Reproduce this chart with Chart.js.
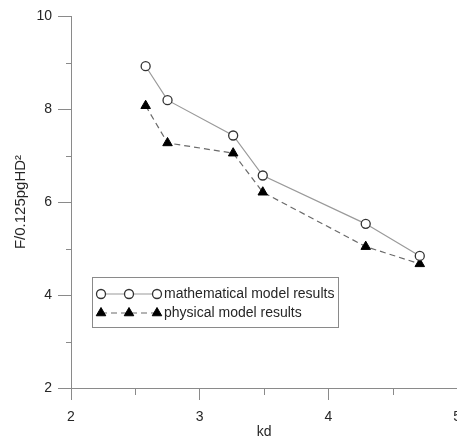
<!DOCTYPE html>
<html>
<head>
<meta charset="utf-8">
<script src="https://cdn.jsdelivr.net/npm/chart.js@4.4.1/dist/chart.umd.min.js"></script>
<style>
  html, body { margin: 0; padding: 0; background: #fff; }
  #wrap { width: 457px; height: 443px; overflow: hidden; }
  #inner { width: 520px; height: 443px; }
</style>
</head>
<body>
<div id="wrap"><div id="inner"><canvas id="chart" width="457" height="443"></canvas></div></div>
<script>
// --- data ---
const kd = [2.58, 2.75, 3.26, 3.49, 4.29, 4.71];
const mathModel = [8.92, 8.19, 7.43, 6.57, 5.53, 4.84];
const physModel = [8.07, 7.27, 7.05, 6.21, 5.04, 4.67];
const seriesNames = ['mathematical model results', 'physical model results'];
const xTicks = [2, 3, 4, 5];
const yTicks = [2, 4, 6, 8, 10];

const FONT = '"Liberation Sans", Arial, sans-serif';
const AXIS = '#8a8a8a';
const TEXT = '#262626';
const W = 457, H = 443;

const pts = ys => kd.map((x, i) => ({ x, y: ys[i] }));

// minor ticks half way between the labelled ones
const minorTicks = {
    id: 'minorTicks',
    afterDraw(chart) {
        const { ctx, scales: { x, y }, chartArea } = chart;
        ctx.save();
        ctx.strokeStyle = AXIS;
        ctx.lineWidth = 1;
        for (let i = 0; i < xTicks.length - 1; i++) {
            const px = Math.round(x.getPixelForValue((xTicks[i] + xTicks[i + 1]) / 2)) + 0.5;
            ctx.beginPath();
            ctx.moveTo(px, chartArea.bottom);
            ctx.lineTo(px, chartArea.bottom + 7);
            ctx.stroke();
        }
        for (let i = 0; i < yTicks.length - 1; i++) {
            const py = Math.round(y.getPixelForValue((yTicks[i] + yTicks[i + 1]) / 2)) + 0.5;
            ctx.beginPath();
            ctx.moveTo(chartArea.left - 5, py);
            ctx.lineTo(chartArea.left, py);
            ctx.stroke();
        }
        ctx.restore();
    }
};

// boxed legend with a three-marker line sample, as in the original
const boxLegend = {
    id: 'boxLegend',
    afterDraw(chart) {
        const { ctx } = chart;
        const box = { l: 92, t: 277, r: 338, b: 327 };
        const rows = [294, 313];
        const marks = [101, 129, 157];
        ctx.save();
        ctx.fillStyle = '#fff';
        ctx.fillRect(box.l, box.t, box.r - box.l, box.b - box.t);
        ctx.strokeStyle = AXIS;
        ctx.lineWidth = 1;
        ctx.strokeRect(box.l + 0.5, box.t + 0.5, box.r - box.l, box.b - box.t);
        chart.data.datasets.forEach((ds, i) => {
            const y = rows[i];
            ctx.save();
            ctx.strokeStyle = ds.borderColor;
            ctx.lineWidth = ds.borderWidth;
            ctx.setLineDash(ds.borderDash || []);
            ctx.beginPath();
            ctx.moveTo(marks[0], y);
            ctx.lineTo(marks[marks.length - 1], y);
            ctx.stroke();
            ctx.restore();
            marks.forEach(mx => {
                ctx.fillStyle = ds.pointBackgroundColor;
                ctx.strokeStyle = ds.pointBorderColor;
                ctx.lineWidth = ds.pointBorderWidth;
                Chart.helpers.drawPoint(ctx, {
                    pointStyle: ds.pointStyle,
                    radius: ds.pointRadius,
                    borderWidth: ds.pointBorderWidth,
                    rotation: 0
                }, mx, y);
            });
            ctx.fillStyle = TEXT;
            ctx.font = '14px ' + FONT;
            ctx.textBaseline = 'middle';
            ctx.textAlign = 'left';
            ctx.fillText(ds.label, 164, y);
        });
        ctx.restore();
    }
};

const chart = new Chart(document.getElementById('chart'), {
    type: 'line',
    data: {
        datasets: [{
            label: seriesNames[0],
            data: pts(mathModel),
            borderColor: '#9a9a9a',
            borderWidth: 1.2,
            pointStyle: 'circle',
            pointRadius: 4.5,
            pointBorderWidth: 1.3,
            pointBorderColor: '#333',
            pointBackgroundColor: '#fff',
            tension: 0
        }, {
            label: seriesNames[1],
            data: pts(physModel),
            borderColor: '#6a6a6a',
            borderWidth: 1.2,
            borderDash: [6, 4],
            pointStyle: 'triangle',
            pointRadius: 5.5,
            pointBorderWidth: 1,
            pointBorderColor: '#000',
            pointBackgroundColor: '#000',
            tension: 0
        }]
    },
    options: {
        responsive: false,
        maintainAspectRatio: false,
        animation: false,
        layout: { padding: { left: 0, right: 0, top: 16, bottom: 0 } },
        plugins: { legend: { display: false }, tooltip: { enabled: false } },
        scales: {
            x: {
                type: 'linear',
                min: 2, max: 5,
                afterBuildTicks: s => { s.ticks = xTicks.map(v => ({ value: v })); },
                afterFit: s => { s.height = 55; },
                grid: { drawOnChartArea: false, drawTicks: true, tickLength: 12, color: AXIS, tickColor: AXIS },
                border: { color: AXIS, width: 1 },
                ticks: { color: TEXT, font: { family: FONT, size: 14 }, padding: 9, maxRotation: 0 },
                title: { display: true, text: 'kd', color: TEXT, font: { family: FONT, size: 14 }, padding: { top: 0, bottom: 2 } }
            },
            y: {
                type: 'linear',
                min: 2, max: 10,
                afterBuildTicks: s => { s.ticks = yTicks.map(v => ({ value: v })); },
                afterFit: s => { s.width = 71; },
                grid: { drawOnChartArea: false, drawTicks: true, tickLength: 13, color: AXIS, tickColor: AXIS },
                border: { color: AXIS, width: 1 },
                ticks: { color: TEXT, font: { family: FONT, size: 14 }, padding: 6 },
                title: { display: true, text: 'F/0.125pgHD²', color: TEXT, font: { family: FONT, size: 15 }, padding: { top: 12, bottom: 0 } }
            }
        }
    },
    plugins: [minorTicks, boxLegend]
});

// the original axis runs to the right edge of the picture with "5" cut in half:
// widen the canvas by the room Chart.js kept for that label, the wrapper clips it
const extra = W - chart.chartArea.right;
if (extra > 0) chart.resize(Math.round(W + extra), H);
</script>
</body>
</html>
